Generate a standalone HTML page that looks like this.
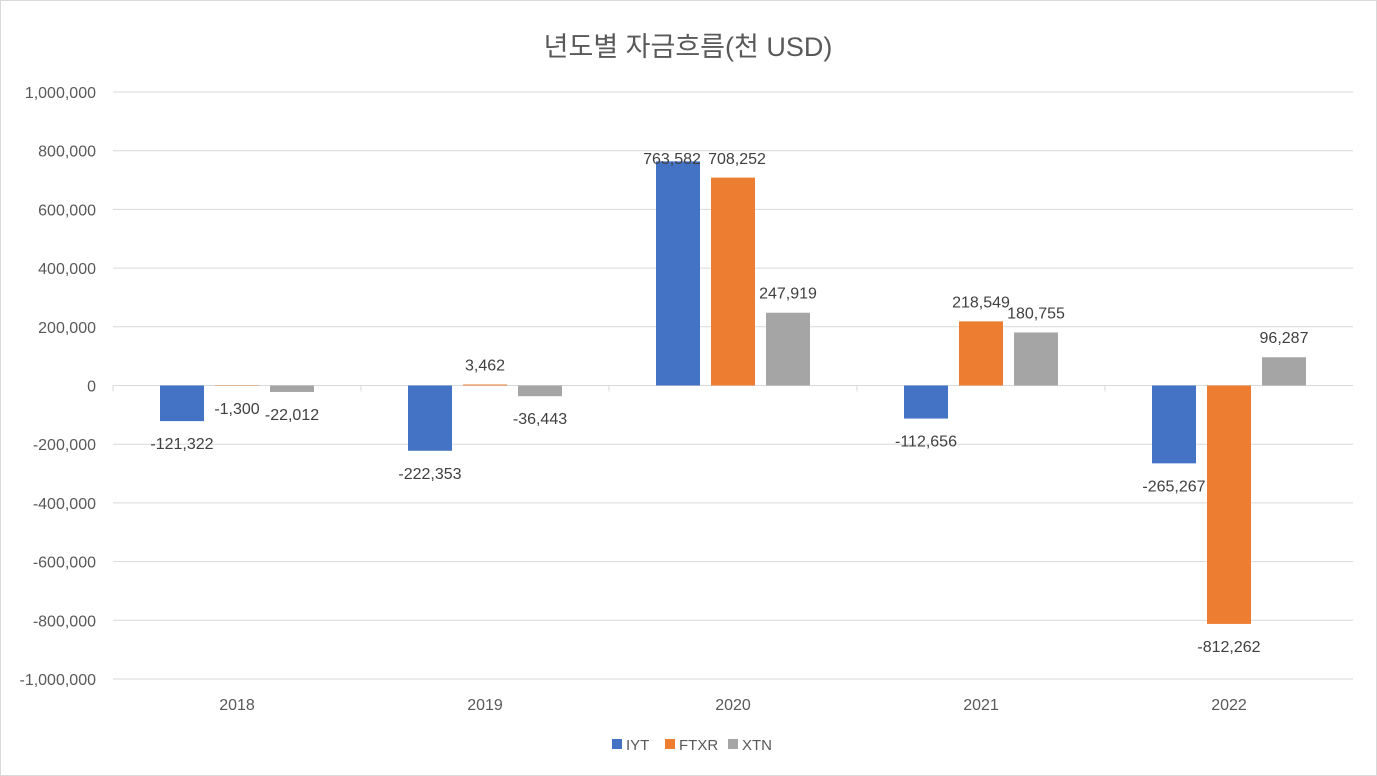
<!DOCTYPE html>
<html><head><meta charset="utf-8"><style>
body{margin:0;background:#fff;}
svg{display:block;font-family:"Liberation Sans","Noto Sans CJK KR",sans-serif;}
</style></head><body>
<svg id="chart" width="1377" height="776">
<rect x="0.5" y="0.5" width="1376" height="775" fill="#fff" stroke="#d9d9d9"/>
<text x="688" y="56" text-anchor="middle" font-size="27" fill="#595959">년도별 자금흐름(천 USD)</text>
<g id="grid"></g><g id="bars"></g><g id="labels"></g><g id="legend"></g>
</svg>
<script>
const categories=["2018","2019","2020","2021","2022"];
const seriesNames=["IYT","FTXR","XTN"];
const seriesColors=["#4472c4","#ed7d31","#a5a5a5"];
const iyt=[-121322,-222353,763582,-112656,-265267];
const ftxr=[-1300,3462,708252,218549,-812262];
const xtn=[-22012,-36443,247919,180755,96287];
const yTicks=[1000000,800000,600000,400000,200000,0,-200000,-400000,-600000,-800000,-1000000];
const NS="http://www.w3.org/2000/svg";
const L=113,R=1353,T=92,B=679,yMin=-1000000,yMax=1000000;
const y=v=>T+(yMax-v)/(yMax-yMin)*(B-T);
const bw=(R-L)/categories.length;
const x=i=>L+bw*i+bw/2;
const fmt=v=>v.toLocaleString('en-US');
function mk(tag,attrs,parent,txt){const e=document.createElementNS(NS,tag);for(const k in attrs)e.setAttribute(k,attrs[k]);if(txt!=null)e.textContent=txt;document.getElementById(parent).appendChild(e);return e;}
yTicks.forEach(t=>{
 const g=mk('line',{x1:L,x2:R,y1:y(t),y2:y(t),stroke:'#d9d9d9','stroke-width':1},'grid');
 
 
 const tx=mk('text',{x:96,y:y(t)+6,'text-anchor':'end','font-size':16,fill:'#595959'},'grid',fmt(t));
 
 
});
categories.forEach((c,i)=>{
 const tk=mk('line',{x1:L+bw*i,x2:L+bw*i,y1:y(0),y2:y(0)+6,stroke:'#d9d9d9'},'grid');
 
 
 const tx=mk('text',{x:x(i),y:710,'text-anchor':'middle','font-size':16,fill:'#595959'},'grid',c);
 
 
});
const series=[iyt,ftxr,xtn];
const barW=44,step=55;
series.forEach((s,si)=>{
 s.forEach((v,i)=>{
  const cx=x(i)+(si-1)*step;
  const y0=y(0),yv=y(v);
  const r=mk('rect',{x:cx-barW/2,y:Math.min(y0,yv),width:barW,height:Math.abs(yv-y0),fill:seriesColors[si]},'bars');
  
  
  let ly=v>=0?yv-14:yv+28;
  let lx2=cx;
  if(ly<164){ly=164;lx2=cx+(si===0?-6:4);}
  const lb=mk('text',{x:lx2,y:ly,'text-anchor':'middle','font-size':16,fill:'#404040'},'labels',fmt(v));
  
  
 });
});
const lx=[612,665,728];
seriesNames.forEach((n,i)=>{
 const sq=mk('rect',{x:lx[i],y:739,width:10,height:10,fill:seriesColors[i]},'legend');
 
 
 const t=mk('text',{x:lx[i]+14,y:750,'font-size':15,fill:'#595959'},'legend',n);
 
 
});
</script>
</body></html>
